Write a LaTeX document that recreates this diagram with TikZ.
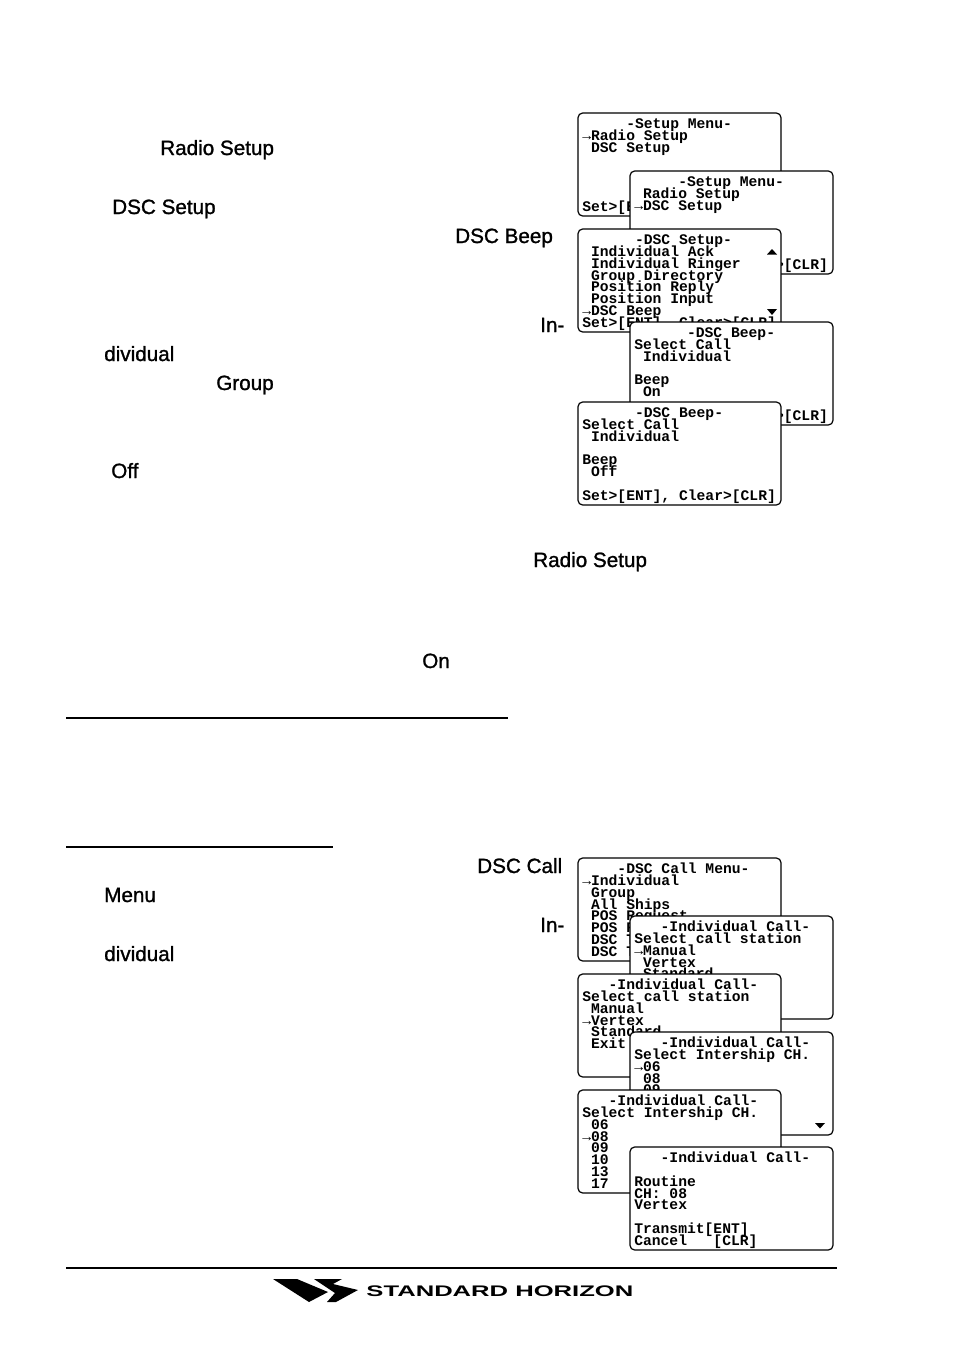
\documentclass[tikz,border=0pt]{standalone}
\usepackage{fontspec}
\setmainfont{Liberation Sans}
\newfontfamily\scrfont{Liberation Mono Bold}
\newfontfamily\lblfont{Liberation Sans}[FakeBold=1.2]
\newfontfamily\logofont{Liberation Sans}
\lineskiplimit=-100pt
\normallineskiplimit=-100pt
\tikzset{
  screen/.style={draw=black,line width=0.9pt,rounded corners=3.5pt,fill=white},
  scrtext/.style={anchor=north west,inner sep=0pt,align=left,font=\scrfont\fontsize{11pt}{8.85pt}\selectfont},
  lbl/.style={anchor=base west,inner sep=0pt,font=\lblfont\fontsize{15.5pt}{18pt}\selectfont,text=black},
  rule/.style={draw=black,line width=1.5pt},
  scroll/.style={fill=black,draw=none},
}
\newcommand{\scrn}[6]{% name x y w h text
  \draw[screen] (#2,#3) rectangle ++(#4,#5);
  \node[scrtext] (#1) at (#2+4,#3+4.8) {\rule{0pt}{8pt}#6};
}
\begin{document}
\begin{tikzpicture}[x=0.75pt,y=-0.75pt]
\useasboundingbox (0,0) rectangle (954,1350);
\fill[white] (0,0) rectangle (954,1350);
\node[lbl] (a1) at (160,155) {Radio Setup};
\node[lbl] (a2) at (112,214) {DSC Setup};
\node[lbl] (a3) at (455,243) {DSC Beep};
\node[lbl] (a4) at (540,332) {In-};
\node[lbl] (a5) at (104,361) {dividual};
\node[lbl] (a6) at (216,390) {Group};
\node[lbl] (a7) at (111,478) {Off};
\node[lbl] (a8) at (533,567) {Radio Setup};
\node[lbl] (a9) at (422,668) {On};
\node[lbl] (b1) at (477,873) {DSC Call};
\node[lbl] (b2) at (104,902) {Menu};
\node[lbl] (b3) at (540,932) {In-};
\node[lbl] (b4) at (104,961) {dividual};
\draw[rule] (66,717.5) -- (508,717.5);
\draw[rule] (66,846.5) -- (333,846.5);
\draw[rule] (66,1267.5) -- (837,1267.5);
\scrn{s1}{578}{113}{203}{103}{\hspace*{3em}-Setup Menu-\\→Radio Setup\\ \ DSC Setup\\ \\ \\ \\ \\Set>[ENT], Clear>[CLR]}
\scrn{s2}{630}{171}{203}{103}{\hspace*{3em}-Setup Menu-\\ \ Radio Setup\\→DSC Setup\\ \\ \\ \\ \\Set>[ENT], Clear>[CLR]}
\scrn{s3}{578}{229}{203}{103}{\hspace*{3.6em}-DSC Setup-\\ \ Individual Ack\\ \ Individual Ringer\\ \ Group Directory\\ \ Position Reply\\ \ Position Input\\→DSC Beep\\Set>[ENT], Clear>[CLR]}
\fill[scroll] (767,254.5) -- (777,254.5) -- (772,249) -- cycle;
\fill[scroll] (767,309) -- (777,309) -- (772,315) -- cycle;
\scrn{s4}{630}{322}{203}{103}{\hspace*{3.6em}-DSC Beep-\\Select Call\\ \ Individual\\ \\Beep\\ \ On\\ \\Set>[ENT], Clear>[CLR]}
\scrn{s5}{578}{402}{203}{103}{\hspace*{3.6em}-DSC Beep-\\Select Call\\ \ Individual\\ \\Beep\\ \ Off\\ \\Set>[ENT], Clear>[CLR]}
\scrn{s6}{578}{858}{203}{103}{\hspace*{2.4em}-DSC Call Menu-\\→Individual\\ \ Group\\ \ All Ships\\ \ POS Request\\ \ POS Report\\ \ DSC Test\\ \ DSC Test}
\scrn{s7}{630}{916}{203}{103}{\hspace*{1.8em}-Individual Call-\\Select call station\\→Manual\\ \ Vertex\\ \ Standard}
\scrn{s8}{578}{974}{203}{103}{\hspace*{1.8em}-Individual Call-\\Select call station\\ \ Manual\\→Vertex\\ \ Standard\\ \ Exit}
\scrn{s9}{630}{1032}{203}{103}{\hspace*{1.8em}-Individual Call-\\Select Intership CH.\\→06\\ \ 08\\ \ 09}
\fill[scroll] (815,1123) -- (825,1123) -- (820,1128.5) -- cycle;
\scrn{s10}{578}{1090}{203}{103}{\hspace*{1.8em}-Individual Call-\\Select Intership CH.\\ \ 06\\→08\\ \ 09\\ \ 10\\ \ 13\\ \ 17}
\scrn{s11}{630}{1147}{203}{103}{\hspace*{1.8em}-Individual Call-\\ \\Routine\\CH: 08\\Vertex\\ \\Transmit[ENT]\\Cancel\ \ \ [CLR]}
\fill (273,1279) -- (297,1279) -- (328,1292) -- (309,1302) -- cycle;
\fill (314,1279) -- (342,1279) -- (333,1284) -- (358,1290) -- (336,1302) -- (327,1302) -- (335,1293) -- cycle;
\node[anchor=base west,inner sep=0pt,font=\logofont\bfseries\fontsize{11.5pt}{12pt}\selectfont,xscale=1.67] (logo) at (366,1296) {STANDARD HORIZON};
\end{tikzpicture}
\end{document}
